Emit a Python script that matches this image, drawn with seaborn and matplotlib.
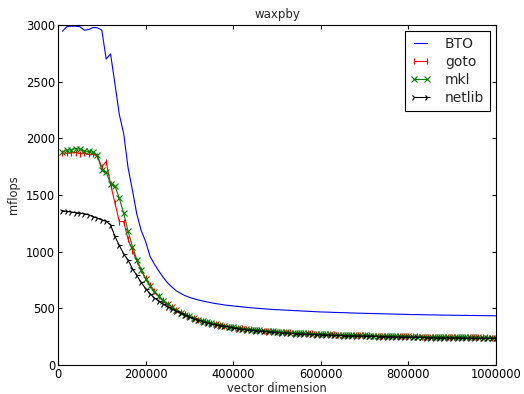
import numpy as np
import pandas as pd
import matplotlib
matplotlib.use("Agg")
import matplotlib.pyplot as plt
import seaborn as sns
from matplotlib.ticker import FormatStrFormatter

# vector dimension (x axis)
dims = list(range(10000, 1000001, 10000))

bto = [
    2945, 2985, 2990, 2990, 2985, 2955, 2960, 2978, 2975, 2955,
    2700, 2745, 2480, 2210, 2040, 1740, 1540, 1330, 1185, 1090,
    960, 890, 830, 775, 725, 688, 655, 632, 612, 597,
    585, 574, 565, 557, 549, 542, 536, 530, 525, 521,
    517, 513, 509, 505, 502, 499, 496, 493, 490, 488,
    486, 484, 482, 480, 478, 476, 474, 472, 470, 468,
    467, 466, 464, 463, 462, 461, 459, 458, 457, 456,
    455, 454, 453, 452, 451, 450, 449, 448, 447, 446,
    445, 445, 444, 443, 442, 442, 441, 440, 440, 439,
    439, 438, 438, 437, 437, 436, 436, 435, 435, 434,
]

goto = [
    1870, 1868, 1872, 1875, 1866, 1870, 1858, 1862, 1840, 1750,
    1795, 1595, 1430, 1265, 1265, 1110, 1010, 915, 835, 765,
    702, 650, 606, 570, 537, 510, 486, 465, 446, 429,
    415, 401, 390, 379, 370, 361, 353, 346, 339, 333,
    328, 323, 318, 314, 310, 306, 303, 300, 297, 294,
    292, 289, 287, 285, 283, 281, 279, 278, 276, 274,
    273, 271, 270, 269, 267, 266, 265, 264, 263, 262,
    261, 260, 259, 258, 257, 256, 255, 255, 254, 253,
    252, 252, 251, 250, 250, 249, 248, 248, 247, 247,
    246, 246, 245, 245, 244, 244, 243, 243, 242, 242,
]

mkl = [
    1880, 1895, 1900, 1910, 1905, 1888, 1885, 1878, 1850, 1720,
    1700, 1600, 1580, 1470, 1340, 1180, 1045, 930, 840, 762,
    700, 648, 605, 568, 536, 508, 484, 463, 444, 428,
    413, 400, 388, 378, 368, 360, 352, 345, 338, 332,
    327, 322, 317, 313, 309, 305, 302, 299, 296, 293,
    291, 288, 286, 284, 282, 280, 278, 277, 275, 273,
    272, 270, 269, 268, 266, 265, 264, 263, 262, 261,
    260, 259, 258, 257, 256, 255, 254, 254, 253, 252,
    251, 251, 250, 249, 249, 248, 247, 247, 246, 246,
    245, 245, 244, 244, 243, 243, 242, 242, 241, 241,
]

netlib = [
    1362, 1355, 1350, 1345, 1340, 1335, 1325, 1310, 1295, 1280,
    1268, 1235, 1135, 1055, 980, 925, 850, 790, 728, 675,
    630, 592, 562, 537, 513, 492, 473, 455, 438, 422,
    408, 395, 383, 373, 363, 355, 347, 340, 333, 327,
    321, 316, 311, 307, 303, 299, 296, 293, 290, 287,
    284, 282, 279, 277, 275, 273, 271, 270, 268, 266,
    265, 263, 262, 261, 259, 258, 257, 256, 255, 254,
    253, 252, 251, 250, 249, 248, 247, 247, 246, 245,
    244, 244, 243, 242, 242, 241, 240, 240, 239, 239,
    238, 238, 237, 237, 236, 236, 235, 235, 234, 234,
]

x_ticks = [0, 200000, 400000, 600000, 800000, 1000000]
y_ticks = [0, 500, 1000, 1500, 2000, 2500, 3000]

sns.set_theme(style="ticks")
plt.rcParams['font.family'] = ['DejaVu Sans']
plt.rcParams['font.size'] = 8.3

fig = plt.figure(figsize=(5.24, 3.94), dpi=100)
ax = fig.add_subplot(111)
fig.subplots_adjust(left=0.1107, right=0.9466, bottom=0.0736, top=0.9365)

lw = 0.8
sns.lineplot(x=dims, y=bto, color='blue', linewidth=lw, label='BTO', ax=ax)
sns.lineplot(x=dims, y=goto, color='red', linewidth=lw, marker='|',
             markersize=4.5, markeredgecolor='red', markeredgewidth=0.8,
             label='goto', ax=ax)
sns.lineplot(x=dims, y=mkl, color='green', linewidth=lw, marker='x',
             markersize=3.8, markeredgecolor='green', markeredgewidth=0.8,
             label='mkl', ax=ax)
sns.lineplot(x=dims, y=netlib, color='black', linewidth=lw, marker='4',
             markersize=4.5, markeredgecolor='black', markeredgewidth=0.8,
             label='netlib', ax=ax)

ax.set_xlim(0, 1000000)
ax.set_ylim(0, 3000)
ax.set_xticks(x_ticks)
ax.set_yticks(y_ticks)
ax.xaxis.set_major_formatter(FormatStrFormatter('%d'))
ax.yaxis.set_major_formatter(FormatStrFormatter('%d'))
ax.tick_params(direction='in', length=3, width=0.8, top=True, right=True,
               labelsize=8.3, colors='black', pad=2)
for sp in ax.spines.values():
    sp.set_visible(True)
    sp.set_color('black')
    sp.set_linewidth(0.8)

ax.set_title('waxpby', fontsize=8.5, pad=5)
ax.set_xlabel('vector dimension', fontsize=8.3, labelpad=1)
ax.set_ylabel('mflops', fontsize=8.3, labelpad=4)

leg = ax.legend(loc='upper right', numpoints=2, handlelength=1.5,
                handletextpad=1.0, fontsize=10, fancybox=False, frameon=True,
                borderaxespad=0.45, borderpad=0.4, labelspacing=0.3)
leg.get_frame().set_edgecolor('black')
leg.get_frame().set_linewidth(0.8)
leg.get_frame().set_alpha(1)

fig.savefig('out.png', dpi=100)
